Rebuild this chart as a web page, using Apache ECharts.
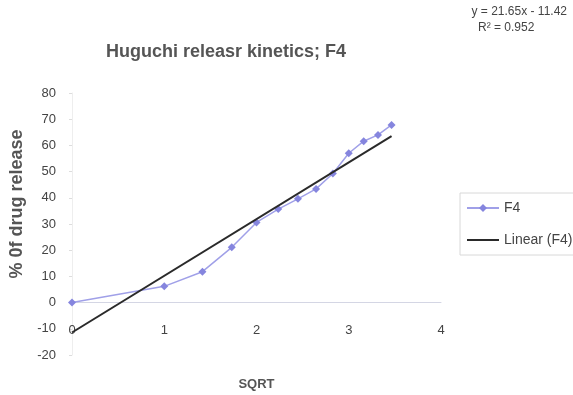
<!DOCTYPE html>
<html>
<head>
<meta charset="utf-8">
<style>
  html, body { margin: 0; padding: 0; background: #fff; }
  #chart { width: 573px; height: 395px; }
</style>
<script src="https://cdn.jsdelivr.net/npm/echarts@6/dist/echarts.min.js"></script>
</head>
<body>
<div id="chart"></div>
<script>
// Square root of time (x) and cumulative % drug released for formulation F4
const sqrtTime = [0, 1, 1.414, 1.732, 2, 2.236, 2.449, 2.646, 2.828, 3, 3.162, 3.317, 3.464];
const releaseF4 = [0, 6.2, 11.8, 21.1, 30.6, 35.7, 39.6, 43.4, 49.3, 57.0, 61.6, 64.0, 67.8];

// Linear trendline coefficients (y = slope * x + intercept) and fit quality
const slope = 21.65;
const intercept = -11.42;
const rSquared = 0.952;

const yTicks = [-20, 80, 10];   // min, max, step
const xTicks = [0, 4, 1];

const trendX = [0, sqrtTime[sqrtTime.length - 1]];
const trendLine = trendX.map(x => [x, slope * x + intercept]);
const seriesF4 = sqrtTime.map((x, i) => [x, releaseF4[i]]);

const chart = echarts.init(document.getElementById('chart'), null, { renderer: 'canvas' });
const font = 'Liberation Sans, Arial, sans-serif';

chart.setOption({
  animation: false,
  backgroundColor: '#ffffff',
  title: {
    text: 'Huguchi releasr kinetics; F4',
    left: 221,
    top: 38,
    textAlign: 'center',
    textStyle: { fontFamily: font, fontSize: 18, fontWeight: 'bold', color: '#555' }
  },
  graphic: [
    {
      type: 'text', right: 6, top: 6,
      style: {
        text: 'y = ' + slope.toFixed(2) + 'x - ' + Math.abs(intercept).toFixed(2),
        fontFamily: font, fontSize: 12, fill: '#444'
      }
    },
    {
      type: 'text', left: 478, top: 22,
      style: {
        text: 'R² = ' + rSquared.toFixed(3),
        fontFamily: font, fontSize: 12, fill: '#444'
      }
    }
  ],
  legend: {
    orient: 'vertical',
    left: 460,
    top: 193,
    itemWidth: 32,
    itemHeight: 10,
    itemGap: 18,
    padding: [8, 12, 8, 6],
    borderColor: '#d8d8d8',
    borderWidth: 1,
    textStyle: { fontFamily: font, fontSize: 14, color: '#444' },
    data: [
      'F4',
      { name: 'Linear (F4)', icon: 'path://M0,0 L36,0 L36,2.2 L0,2.2 Z' }
    ]
  },
  grid: { left: 72, right: 132, top: 93, bottom: 40, outerBoundsMode: 'none' },
  xAxis: {
    type: 'value',
    min: xTicks[0], max: xTicks[1], interval: xTicks[2],
    name: 'SQRT',
    nameLocation: 'middle',
    nameGap: 23,
    nameTextStyle: { fontFamily: font, fontSize: 13, fontWeight: 'bold', color: '#555' },
    axisLine: { onZero: true, lineStyle: { color: '#d4d6e4', width: 1 } },
    axisTick: { show: false },
    splitLine: { show: false },
    axisLabel: { inside: true, margin: 18, fontFamily: font, fontSize: 13, color: '#444' }
  },
  yAxis: {
    type: 'value',
    min: yTicks[0], max: yTicks[1], interval: yTicks[2],
    name: '% 0f drug release',
    nameLocation: 'middle',
    nameGap: 46,
    nameTextStyle: { fontFamily: font, fontSize: 18, fontWeight: 'bold', color: '#555', padding: [0, 0, 0, 40] },
    axisLine: { show: true, lineStyle: { color: '#eeeeee', width: 1 } },
    axisTick: { show: true, length: 3, lineStyle: { color: '#dddddd' } },
    splitLine: { show: false },
    axisLabel: { margin: 16, fontFamily: font, fontSize: 13, color: '#444' }
  },
  series: [
    {
      name: 'F4',
      type: 'line',
      data: seriesF4,
      symbol: 'diamond',
      symbolSize: 8,
      lineStyle: { color: '#a0a0e8', width: 1.5 },
      itemStyle: { color: '#8585de' },
      z: 2
    },
    {
      name: 'Linear (F4)',
      type: 'line',
      data: trendLine,
      symbol: 'none',
      lineStyle: { color: '#2a2a2a', width: 2 },
      itemStyle: { color: '#2a2a2a' },
      z: 3
    }
  ]
});
</script>
</body>
</html>
